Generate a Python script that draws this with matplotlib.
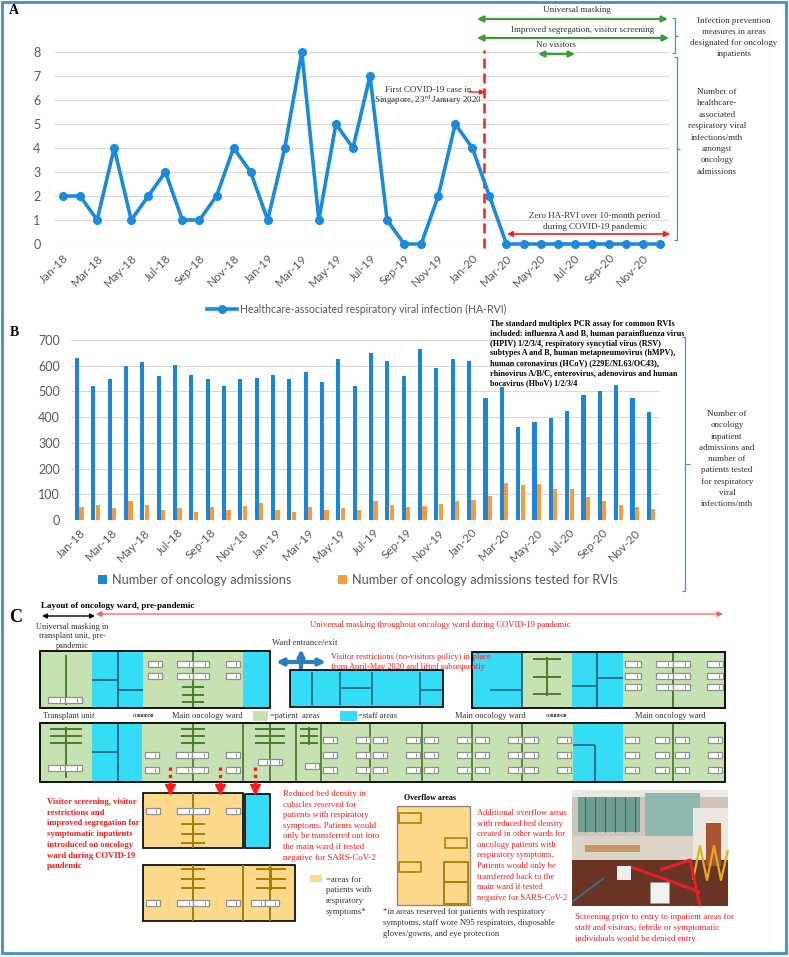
import matplotlib
matplotlib.use('Agg')
import matplotlib.pyplot as plt
from matplotlib.patches import Rectangle
import numpy as np

# ---------------------------------------------------------------- data
MON = ['Jan', 'Feb', 'Mar', 'Apr', 'May', 'Jun', 'Jul', 'Aug', 'Sep', 'Oct', 'Nov', 'Dec']
months = [f'{m}-{y}' for y in ('18', '19', '20') for m in MON]

ha_rvi = [2, 2, 1, 4, 1, 2, 3, 1, 1, 2, 4, 3,
          1, 4, 8, 1, 5, 4, 7, 1, 0, 0, 2, 5,
          4, 2, 0, 0, 0, 0, 0, 0, 0, 0, 0, 0]

admissions = [629, 523, 547, 600, 616, 560, 603, 565, 549, 521, 549, 551,
              564, 549, 577, 537, 625, 523, 648, 619, 560, 664, 591, 626,
              617, 476, 519, 362, 381, 397, 422, 488, 502, 525, 473, 419]

tested = [52, 58, 47, 75, 58, 39, 45, 31, 49, 40, 54, 67,
          40, 31, 49, 40, 45, 40, 74, 58, 49, 54, 62, 75,
          78, 95, 145, 137, 140, 122, 122, 91, 74, 58, 49, 43]

first_case = 24 + 22 / 31.0   # 23 Jan 2020 on the month axis

pcr_lines = [
    'The standard multiplex PCR assay for common RVIs',
    'included: influenza A and B, human parainfluenza virus',
    '(HPIV) 1/2/3/4, respiratory syncytial virus (RSV)',
    'subtypes A and B, human metapneumovirus (hMPV),',
    'human coronavirus (HCoV) (229E/NL63/OC43),',
    'rhinovirus A/B/C, enterovirus, adenovirus and human',
    'bocavirus (HboV) 1/2/3/4',
]

# ---------------------------------------------------------------- style
W, H = 789, 957
SANS = 'Lato'
SERIF = 'Liberation Serif'
GRAY = '#595959'
LINEBLUE = '#1b8ad8'
BARBLUE = '#1a86d6'
BARORANGE = '#fb9a3c'
RED = '#ff1a1a'
GREENARR = '#3f9a36'
BRACKET = '#4a90d0'

GREEN = '#c6e2b2'
CYAN = '#35dcf6'
DKG = '#4a7c2f'
DKC = '#1d5a78'
ORANGE = '#fdd98b'
DKO = '#a67c00'

plt.rcParams['mathtext.fontset'] = 'custom'
plt.rcParams['mathtext.rm'] = SERIF

fig = plt.figure(figsize=(W / 100, H / 100), dpi=100)


def fig_axes(left, top, right, bottom):
    """axes from pixel box"""
    return fig.add_axes([left / W, 1 - bottom / H, (right - left) / W, (bottom - top) / H])


def excel_style(ax):
    for s in ax.spines.values():
        s.set_visible(False)
    ax.tick_params(length=0, colors=GRAY)
    ax.grid(axis='y', color='#d9d9d9', lw=0.8)
    ax.set_axisbelow(True)


x = np.arange(len(months))

# ================================================================ panel A
axA = fig_axes(54.5, 52, 668.5, 244)
excel_style(axA)
axA.plot(x, ha_rvi, color=LINEBLUE, lw=2.6, marker='o', ms=5.5, clip_on=False, zorder=3,
         label='Healthcare-associated respiratory viral infection (HA-RVI)')
axA.set_xlim(-0.5, 35.5)
axA.set_ylim(0, 8)
axA.set_yticks(range(0, 9))
axA.set_xticks(x[::2])
axA.set_xticklabels(months[::2], rotation=45, ha='right', rotation_mode='anchor')
for lab in axA.get_xticklabels():
    lab.set_fontfamily(SANS)
    lab.set_fontsize(8.5)
for lab in axA.get_yticklabels():
    lab.set_fontfamily(SANS)
    lab.set_fontsize(9)
axA.tick_params(axis='x', pad=6)
axA.tick_params(axis='y', pad=10)
axA.axvline(first_case, ymin=-0.02, ymax=1.01, color=RED, ls=(0, (4, 2)), lw=1.8, clip_on=False)
axA.legend(loc='center', bbox_to_anchor=(357 / W, 1 - 309 / H), bbox_transform=fig.transFigure,
           frameon=False, prop={'family': SANS, 'size': 7.6}, labelcolor=GRAY,
           handlelength=2.8, handletextpad=0.3)

# ================================================================ panel B
axB = fig_axes(71.1, 340, 659.2, 520)
excel_style(axB)
bw = 0.26
axB.bar(x - 0.14, admissions, width=bw, color=BARBLUE, label='Number of oncology admissions')
axB.bar(x + 0.14, tested, width=bw, color=BARORANGE, label='Number of oncology admissions tested for RVIs')
axB.set_xlim(-0.5, 35.5)
axB.set_ylim(0, 700)
axB.set_yticks(range(0, 701, 100))
axB.set_xticks(x[::2])
axB.set_xticklabels(months[::2], rotation=45, ha='right', rotation_mode='anchor')
for lab in axB.get_xticklabels():
    lab.set_fontfamily(SANS)
    lab.set_fontsize(8.5)
for lab in axB.get_yticklabels():
    lab.set_fontfamily(SANS)
    lab.set_fontsize(9)
axB.tick_params(axis='x', pad=5)
axB.tick_params(axis='y', pad=8)
axB.legend(loc='center', ncol=2, bbox_to_anchor=(358 / W, 1 - 580 / H), bbox_transform=fig.transFigure,
           frameon=False, prop={'family': SANS, 'size': 9.2}, labelcolor=GRAY,
           handlelength=0.7, handleheight=0.7, handletextpad=0.4, columnspacing=3.6)

# ================================================================ overlay (pixel coordinates)
ov = fig.add_axes([0, 0, 1, 1])
ov.set_xlim(0, W)
ov.set_ylim(H, 0)
ov.axis('off')


def rect(x0, y0, x1, y1, fc, ec='none', lw=0.0, z=2):
    ov.add_patch(Rectangle((x0, y0), x1 - x0, y1 - y0, fc=fc, ec=ec, lw=lw, zorder=z))


def seg(xs, ys, c, lw=1.0, z=3, **kw):
    ov.plot(xs, ys, color=c, lw=lw, zorder=z, solid_capstyle='butt', **kw)


def txt(x0, y0, s, size=6.5, color='#333333', family=SERIF, **kw):
    kw.setdefault('va', 'center')
    ov.text(x0, y0, s, fontsize=size, color=color, family=family, zorder=6, **kw)


def lines(x0, y0, dy, rows, **kw):
    for i, r in enumerate(rows):
        txt(x0, y0 + i * dy, r, **kw)


def darrow(x0, x1, y, color, lw=1.6, ms=9, style='<|-|>'):
    ov.annotate('', xy=(x1, y), xytext=(x0, y), zorder=5,
                arrowprops=dict(arrowstyle=style, color=color, lw=lw, mutation_scale=ms,
                                shrinkA=0, shrinkB=0))


def bracket(xb, y0, y1, tick):
    seg([xb - 3, xb, xb, xb - 3], [y0, y0, y1, y1], BRACKET, lw=0.9)
    ym = (y0 + y1) / 2
    seg([xb, xb + tick], [ym, ym], BRACKET, lw=0.9)


def beds(x0, y0, n=2, w=15, h=6):
    for i in range(n):
        bx = x0 + i * w
        rect(bx, y0, bx + w, y0 + h, 'white', ec='#8f8f8f', lw=0.9, z=4)
        seg([bx + w * 0.72, bx + w * 0.72], [y0 + 1, y0 + h - 1], '#8f8f8f', lw=0.7, z=4)


def wc(x0, x1, y0, y1, c):
    xm = (x0 + x1) / 2
    seg([xm, xm], [y0, y1], c, lw=1.4, z=4)
    for yy in np.linspace(y0 + 2, y1 - 2, 3):
        seg([x0, x1], [yy, yy], c, lw=1.4, z=4)


# outer blue frame
rect(2, 2, 786, 953, 'none', ec='#3f8fd0', lw=2, z=10)

# panel letters
txt(14, 11, 'A', size=10, color='black', weight='bold', ha='center')
txt(14, 333, 'B', size=10, color='black', weight='bold', ha='center')
txt(16, 617, 'C', size=13, color='black', weight='bold', ha='center')

# ---- panel A annotations
txt(577, 10, 'Universal masking', ha='center')
darrow(477, 668, 19, GREENARR)
txt(583, 30, 'Improved segregation, visitor screening', ha='center')
darrow(477, 669, 38, GREENARR)
txt(556, 45, 'No visitors', ha='center')
darrow(538, 575, 54, GREENARR)

bracket(675, 18, 53, 3)
lines(734, 21, 11, ['Infection prevention', 'measures in areas',
                    'designated for oncology', 'inpatients'], ha='center')
bracket(677, 57, 240, 3)
lines(717, 92, 11.4, ['Number of', 'healthcare-', 'associated', 'respiratory viral',
                      'infections/mth', 'amongst', 'oncology', 'admissions'], ha='center')

txt(428, 90, 'First COVID-19 case in', ha='center')
txt(428, 100.5, 'Singapore, 23$^{\\rm rd}$ January 2020', ha='center')
ov.annotate('', xy=(485, 92), xytext=(469, 92), zorder=5,
            arrowprops=dict(arrowstyle='-|>', color=RED, lw=1.0, mutation_scale=7, shrinkA=0, shrinkB=0))

txt(595, 216, 'Zero HA-RVI over 10-month period', ha='center')
txt(595, 227, 'during COVID-19 pandemic', ha='center')
darrow(507, 670, 234, RED, lw=1.2, ms=8)

# ---- panel B annotations
lines(490, 324, 9.8, pcr_lines, size=5.9, color='black', weight='bold')
bracket(685, 337, 591, 5)
lines(727, 414, 11.3, ['Number of', 'oncology', 'inpatient', 'admissions and', 'number of',
                       'patients tested', 'for respiratory', 'viral', 'infections/mth'], ha='center')

# ================================================================ panel C
txt(41, 606, 'Layout of oncology ward, pre-pandemic', color='black', weight='bold')
darrow(42, 95, 616, 'black', lw=1.0, ms=7)
darrow(96, 723, 614, '#ff5a5a', lw=0.9, ms=8)
lines(72, 627, 9.5, ['Universal masking in', 'transplant unit, pre-', 'pandemic'], size=6, ha='center')
txt(310, 625, 'Universal masking throughout oncology ward during COVID-19 pandemic', size=6.2, color=RED)

txt(272, 643, 'Ward entrance/exit', size=6.2)
darrow(276, 326, 662, '#2a7fc0', lw=3, ms=9)
ov.annotate('', xy=(301, 649), xytext=(301, 668), zorder=5,
            arrowprops=dict(arrowstyle='-|>', color='#2a7fc0', lw=3, mutation_scale=9, shrinkA=0, shrinkB=0))
lines(331, 657, 10, ['Visitor restrictions (no-visitors policy) in-place',
                     'from April-May 2020 and lifted subsequently'], size=6.0, color=RED)

# ---- top row of ward
rect(40, 651, 92, 708, GREEN)
rect(92, 651, 143, 708, CYAN)
rect(143, 651, 243, 708, GREEN)
rect(243, 651, 270, 708, CYAN)
rect(40, 651, 270, 708, 'none', ec='black', lw=1.3, z=5)
seg([66, 66], [655, 705], DKG, lw=1.4)
beds(48, 697, 2, 17)
seg([118, 118], [651, 708], DKC, lw=1.2)
seg([92, 118], [680, 680], DKC, lw=1.2)
seg([118, 143], [690, 690], DKC, lw=1.2)
seg([193, 193], [651, 708], DKG, lw=1.4)
for yy in (661, 673):
    beds(148, yy, 1, 14)
    beds(177, yy, 2, 16)
    beds(226, yy, 1, 14)
wc(182, 204, 685, 704, DKG)

rect(290, 670, 443, 707, CYAN)
rect(290, 670, 443, 707, 'none', ec='black', lw=1.2, z=5)
for xx in (312, 340, 372, 420):
    seg([xx, xx], [672, 705], DKC, lw=1.1)
seg([340, 372], [688, 688], DKC, lw=1.1)
seg([420, 443], [690, 690], DKC, lw=1.1)

rect(472, 652, 522, 708, CYAN)
rect(522, 652, 572, 708, GREEN)
rect(572, 652, 623, 708, CYAN)
rect(623, 652, 725, 708, GREEN)
rect(472, 652, 725, 708, 'none', ec='black', lw=1.3, z=5)
seg([522, 522], [652, 708], DKC, lw=1.2)
seg([490, 522], [690, 690], DKC, lw=1.1)
wc(533, 561, 657, 696, DKG)
seg([597, 597], [652, 708], DKC, lw=1.2)
seg([597, 623], [678, 678], DKC, lw=1.1)
seg([572, 597], [686, 686], DKC, lw=1.1)
seg([673, 673], [652, 708], DKG, lw=1.4)
for yy in (661, 673, 684):
    beds(625, yy, 1, 16)
    beds(656, yy, 2, 17)
    beds(707, yy, 1, 16)

# corridor labels and legend
txt(43, 716, 'Transplant unit', size=6)
txt(133, 716, 'CORRIDOR', size=2.8, color='black', weight='bold')
txt(172, 716, 'Main oncology ward', size=6)
rect(253, 711, 268, 721, GREEN)
txt(270, 716, '=patient  areas', size=6)
rect(340, 711, 357, 721, CYAN)
txt(358, 716, '=staff areas', size=6)
txt(455, 716, 'Main oncology ward', size=6)
txt(546, 716, 'CORRIDOR', size=2.8, color='black', weight='bold')
txt(635, 716, 'Main oncology ward', size=6)

# ---- bottom row of ward
rect(40, 723, 92, 782, GREEN)
rect(92, 723, 142, 782, CYAN)
rect(142, 723, 573, 782, GREEN)
rect(573, 723, 623, 782, CYAN)
rect(623, 723, 725, 782, GREEN)
rect(40, 723, 725, 782, 'none', ec='black', lw=1.3, z=5)
seg([66, 66], [727, 778], DKG, lw=1.4)
beds(48, 765, 2, 17)
wc(50, 82, 727, 745, DKG)
seg([118, 118], [723, 782], DKC, lw=1.2)
seg([92, 118], [752, 752], DKC, lw=1.1)
for xx in (193, 243, 270, 296, 321, 370, 422, 472, 522, 673):
    seg([xx, xx], [723, 782], DKG, lw=1.3)
seg([595, 595], [745, 782], DKC, lw=1.2)
seg([573, 595], [745, 745], DKC, lw=1.1)
for yy in (752, 767):
    beds(145, yy, 1, 14)
    beds(176, yy, 2, 16)
    beds(226, yy, 1, 14)
wc(181, 205, 727, 745, DKG)
wc(255, 285, 727, 745, DKG)
wc(300, 318, 727, 745, DKG)
beds(258, 759, 2, 12)
beds(305, 763, 1, 14)
for yy in (737, 752, 767):
    for bx in (323, 356, 373, 406, 424, 457, 475, 508, 524, 557, 625, 655, 675, 708):
        beds(bx, yy, 1, 14)

# red dotted arrows
for xx in (170, 220, 255):
    seg([xx, xx], [767, 785], RED, lw=2.4, z=6, ls=(0, (1, 1.2)))
    ov.plot([xx], [789], marker='v', color=RED, ms=7, zorder=6)

# ---- segregated cubicles
rect(143, 793, 243, 848, ORANGE, ec='black', lw=1.2)
seg([193, 193], [793, 848], DKO, lw=1.4)
beds(146, 808, 1, 14)
beds(177, 808, 2, 16)
beds(226, 808, 1, 14)
wc(181, 205, 822, 845, DKO)
rect(245, 794, 270, 848, CYAN, ec='black', lw=1.2)

rect(143, 865, 295, 921, ORANGE, ec='black', lw=1.2)
for xx in (193, 243, 270):
    seg([xx, xx], [865, 921], DKO, lw=1.4)
beds(146, 900, 1, 14)
beds(177, 900, 2, 16)
beds(226, 900, 1, 14)
beds(251, 900, 2, 14)
wc(181, 205, 867, 890, DKO)
wc(256, 286, 867, 890, DKO)

lines(47, 802, 10.7, ['Visitor screening, visitor', 'restrictions and', 'improved segregation for',
                      'symptomatic inpatients', 'introduced on oncology', 'ward during COVID-19',
                      'pandemic'], size=6.2, color=RED, weight='bold')
lines(283, 794, 10.6, ['Reduced bed density in', 'cubicles reserved for', 'patients with respiratory',
                       'symptoms. Patients would', 'only be transferred out into',
                       'the main ward if tested', 'negative for SARS-CoV-2'], size=6.3, color=RED)
rect(310, 875, 322, 882, ORANGE)
lines(326, 879.5, 10.8, ['=areas for', 'patients with', 'respiratory', 'symptoms*'], size=6.3)

# ---- overflow area
txt(404, 798, 'Overflow areas', size=5.8, color='black', weight='bold')
rect(397, 806, 470, 905, ORANGE, ec='#8a8a8a', lw=1.0)
rect(399, 813, 421, 823, 'none', ec=DKO, lw=1.1, z=4)
rect(445, 838, 467, 848, 'none', ec=DKO, lw=1.1, z=4)
rect(399, 862, 421, 872, 'none', ec=DKO, lw=1.1, z=4)
rect(444, 862, 468, 882, 'none', ec=DKO, lw=1.3, z=4)
rect(444, 882, 468, 904, 'none', ec=DKO, lw=1.3, z=4)
lines(477, 813, 10.6, ['Additional overflow areas', 'with reduced bed density',
                       'created in other wards for', 'oncology patients with',
                       'respiratory symptoms.', 'Patients would only be',
                       'transferred back to the', 'main ward if tested',
                       'negative for SARS-CoV-2'], size=6.1, color=RED)
lines(383, 912, 10.8, ['*in areas reserved for patients with respiratory',
                       'symptoms, staff wore N95 respirators, disposable',
                       'gloves/gowns, and eye protection'], size=6.2)

# ---- photo of screening area (sketch)
rect(572, 790, 728, 906, '#cfc6bb')
rect(572, 790, 728, 797, '#ebe8e2', z=3)
rect(578, 797, 640, 832, '#6f9f93', z=3)
for xx in np.arange(585, 640, 10):
    seg([xx, xx], [797, 832], '#3d6b62', lw=0.8, z=4)
rect(645, 793, 700, 836, '#8fb9b0', z=3)
rect(693, 808, 728, 868, '#ece8e2', z=3)
rect(706, 823, 721, 866, '#a9542e', z=4)
rect(572, 836, 693, 860, '#dcd4c8', z=3)
rect(585, 845, 640, 852, '#c8995f', z=4)
rect(572, 860, 728, 906, '#6a3424', z=3)
seg([693, 700, 707, 714, 721, 728], [880, 846, 880, 846, 880, 850], '#e0b020', lw=1.6, z=4)
seg([628, 700], [866, 892], '#e3202a', lw=2.2, z=4)
seg([660, 690, 700], [870, 860, 906], '#e3202a', lw=2.2, z=4)
seg([572, 604], [902, 878], '#2e78a8', lw=1.2, z=4)
rect(650, 882, 669, 903, '#f2f2f2', ec='#999', lw=0.5, z=5)
rect(617, 866, 631, 880, '#eeeeee', z=5)
lines(575, 917, 11, ['Screening prior to entry to inpatient areas for',
                     'staff and visitors; febrile or symptomatic',
                     'individuals would be denied entry'], size=6.3, color=RED)

fig.savefig('out.png', dpi=100)
